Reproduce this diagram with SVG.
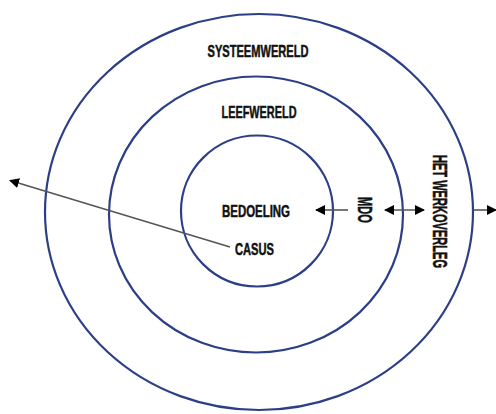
<svg xmlns="http://www.w3.org/2000/svg" width="496" height="414" viewBox="0 0 496 414">
<defs>
<style>
.ring{fill:none;stroke:#2c3f86;stroke-width:2.2}
.lbl{font-family:"Liberation Sans",Arial,sans-serif;font-weight:bold;font-size:16.5px;fill:#111;stroke:#111;stroke-width:0.5}
.vlbl{font-family:"Liberation Sans",Arial,sans-serif;font-weight:bold;font-size:20px;fill:#111;stroke:#111;stroke-width:0.5}
.con{stroke:#555;stroke-width:1.6;fill:none}
</style>
<marker id="ah" viewBox="0 0 10 10" refX="9" refY="5" markerWidth="10" markerHeight="10" markerUnits="userSpaceOnUse" orient="auto-start-reverse">
<path d="M0,0 L10,5 L0,10 Z" fill="#000"/>
</marker>
</defs>
<rect width="496" height="414" fill="#fff"/>
<g id="systeemwereld">
<ellipse class="ring" cx="259" cy="212" rx="214" ry="198"/>
<text class="lbl" x="258" y="57" text-anchor="middle" textLength="101" lengthAdjust="spacingAndGlyphs">SYSTEEMWERELD</text>
</g>
<g id="leefwereld">
<ellipse class="ring" cx="256" cy="214.5" rx="147" ry="138"/>
<text class="lbl" x="259" y="118" text-anchor="middle" textLength="75" lengthAdjust="spacingAndGlyphs">LEEFWERELD</text>
</g>
<g id="bedoeling">
<ellipse class="ring" cx="257" cy="211" rx="76" ry="75.5"/>
<text class="lbl" x="256" y="217" text-anchor="middle" textLength="68" lengthAdjust="spacingAndGlyphs">BEDOELING</text>
</g>
<g id="casus">
<text class="lbl" x="254.5" y="254.5" text-anchor="middle" textLength="39" lengthAdjust="spacingAndGlyphs">CASUS</text>
</g>
<g id="mdo">
<text class="vlbl" transform="translate(358,210) rotate(90)" x="0" y="0" text-anchor="middle" textLength="26" lengthAdjust="spacingAndGlyphs">MDO</text>
</g>
<g id="het-werkoverleg">
<text class="vlbl" transform="translate(433,211.5) rotate(90)" x="0" y="0" text-anchor="middle" textLength="113" lengthAdjust="spacingAndGlyphs">HET WERKOVERLEG</text>
</g>
<g id="connectors">
<line class="con" x1="230" y1="247" x2="10" y2="180.5" marker-end="url(#ah)"/>
<line class="con" x1="348" y1="210" x2="316" y2="210" marker-end="url(#ah)"/>
<line class="con" x1="385" y1="210" x2="424" y2="210" marker-start="url(#ah)" marker-end="url(#ah)"/>
<line class="con" x1="474" y1="210" x2="496" y2="210" marker-end="url(#ah)"/>
</g>
</svg>
